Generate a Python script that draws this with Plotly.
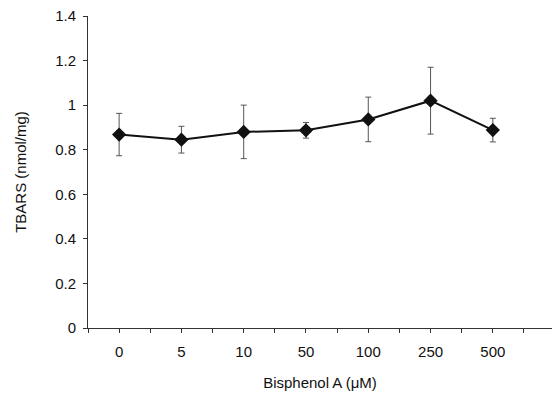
import plotly.graph_objects as go

categories = ["0", "5", "10", "50", "100", "250", "500"]
tbars = [0.868, 0.845, 0.880, 0.887, 0.936, 1.020, 0.888]
err = [0.095, 0.060, 0.120, 0.035, 0.100, 0.150, 0.053]

y_ticks = [0, 0.2, 0.4, 0.6, 0.8, 1.0, 1.2, 1.4]
y_ticktext = ["0", "0.2", "0.4", "0.6", "0.8", "1", "1.2", "1.4"]

font = dict(family="Liberation Sans, Arial, sans-serif", size=15, color="#111")

xpos = list(range(len(categories)))
minor_x = [i + 0.5 for i in range(-1, len(categories))]

fig = go.Figure()
fig.add_trace(go.Scatter(
    x=xpos, y=tbars,
    mode="lines+markers",
    line=dict(color="#111", width=2),
    marker=dict(symbol="diamond", size=11, color="#111"),
    error_y=dict(type="data", array=err, visible=True, color="#555", thickness=1, width=3),
    showlegend=False,
))

fig.update_layout(
    width=552, height=407,
    margin=dict(l=88, r=0, t=16, b=79),
    paper_bgcolor="white", plot_bgcolor="white",
    font=font,
    xaxis=dict(
        range=[-0.5, 6.95],
        tickmode="array",
        tickvals=xpos,
        ticktext=categories,
        showline=True, linecolor="#333", linewidth=1,
        ticks="outside", ticklen=4, tickcolor="#333",
        minor=dict(tickvals=minor_x, ticks="outside", ticklen=4, tickcolor="#333"),
        ticklabelstandoff=6,
        showgrid=False, zeroline=False,
        title=dict(text="Bisphenol A (μM)", standoff=18, font=font),
        tickfont=font,
    ),
    yaxis=dict(
        range=[0, 1.4],
        tickmode="array", tickvals=y_ticks, ticktext=y_ticktext,
        showline=True, linecolor="#333", linewidth=1,
        ticks="outside", ticklen=4, tickcolor="#333",
        ticklabelstandoff=4,
        showgrid=False, zeroline=False,
        title=dict(text="TBARS (nmol/mg)", standoff=24, font=font),
        tickfont=font,
    ),
)

fig.write_html("out.html")
